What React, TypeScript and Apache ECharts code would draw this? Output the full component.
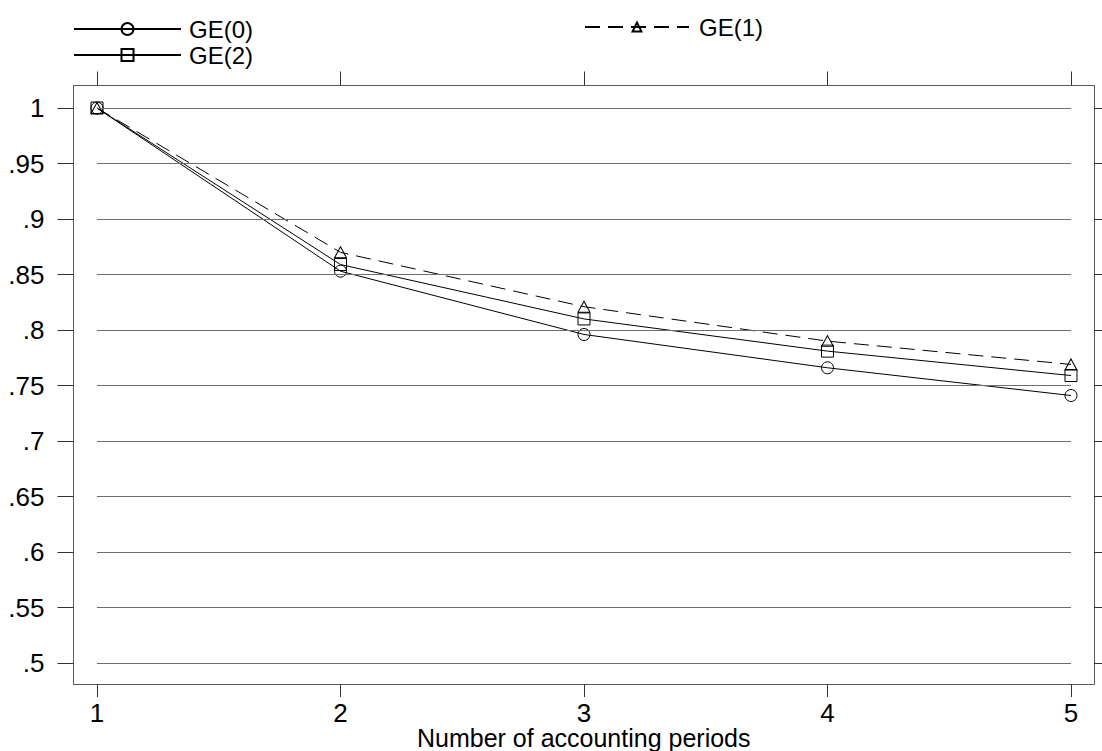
import React, { useEffect, useRef } from "react";
import * as echarts from "echarts";

// Number of accounting periods
const periods = [1, 2, 3, 4, 5];

// Ratio for each estimator
const ge0 = [1, 0.853, 0.796, 0.766, 0.741];
const ge1 = [1, 0.87, 0.821, 0.79, 0.769];
const ge2 = [1, 0.859, 0.81, 0.781, 0.759];

// Tick positions on the value axis
const yTicks = [0.5, 0.55, 0.6, 0.65, 0.7, 0.75, 0.8, 0.85, 0.9, 0.95, 1];

const FONT = "'Liberation Sans', Arial, sans-serif";
const FRAME = "#5a5a5a";
const GRID = "#6e6e6e";

const fmtY = (v: number) => {
  const s = String(+v.toFixed(2));
  return s.startsWith("0") ? s.slice(1) : s;
};

const pairs = (ys: number[]) => periods.map((x, i) => [x, ys[i]]);

export default function App() {
  const ref = useRef<HTMLDivElement>(null);

  useEffect(() => {
    if (!ref.current) return;
    const chart = echarts.init(ref.current, null, { renderer: "svg" });

    const xCommon = {
      type: "value" as const,
      min: 0.9035,
      max: 5.0945,
      splitLine: { show: false },
      axisLine: { show: true, onZero: false, lineStyle: { color: FRAME, width: 1 } },
    };
    const yCommon = {
      type: "value" as const,
      min: 0.4811,
      max: 1.0203,
      splitLine: { show: false },
      axisLine: { show: true, onZero: false, lineStyle: { color: FRAME, width: 1 } },
    };

    const symStyle = {
      color: "rgba(0,0,0,0)",
      borderColor: "#000",
      borderWidth: 1,
    };

    const legendText = {
      fontSize: 24,
      lineHeight: 24,
      color: "#000",
      fontFamily: FONT,
      padding: [0, 0, 0, 3],
    };

    chart.setOption({
      animation: false,
      backgroundColor: "#fff",
      textStyle: { fontFamily: FONT },
      grid: {
        left: 73.5,
        right: 8,
        top: 85.5,
        bottom: 67,
        containLabel: false,
        outerBoundsMode: "none",
      },
      legend: [
        {
          data: ["GE(0)"],
          left: 73,
          top: 17,
          padding: 0,
          itemWidth: 107,
          itemHeight: 15,
          textStyle: legendText,
        },
        {
          data: ["GE(1)"],
          left: 584,
          top: 15,
          padding: 0,
          itemWidth: 104,
          itemHeight: 11,
          textStyle: { ...legendText, padding: [0, 0, 0, 5] },
        },
        {
          data: ["GE(2)"],
          left: 73,
          top: 43,
          padding: 0,
          itemWidth: 107,
          itemHeight: 15,
          textStyle: legendText,
        },
      ],
      xAxis: [
        {
          ...xCommon,
          position: "bottom",
          axisTick: {
            show: true,
            customValues: periods,
            length: 13,
            lineStyle: { color: "#333" },
          },
          axisLabel: {
            customValues: periods,
            fontSize: 26,
            lineHeight: 20,
            color: "#000",
            margin: 19,
            fontFamily: FONT,
          },
          name: "Number of accounting periods",
          nameLocation: "middle",
          nameGap: 44,
          nameMoveOverlap: false,
          nameTextStyle: { fontSize: 25, lineHeight: 20, color: "#000", fontFamily: FONT },
        },
        {
          ...xCommon,
          position: "top",
          axisTick: {
            show: true,
            customValues: periods,
            length: 14,
            lineStyle: { color: "#333" },
          },
          axisLabel: { show: false },
        },
      ],
      yAxis: [
        {
          ...yCommon,
          position: "left",
          axisTick: {
            show: true,
            customValues: yTicks,
            length: 16,
            lineStyle: { color: "#333" },
          },
          axisLabel: {
            customValues: yTicks,
            formatter: (v: number) => fmtY(v),
            fontSize: 26,
            color: "#000",
            margin: 29,
            fontFamily: FONT,
          },
        },
        {
          ...yCommon,
          position: "right",
          axisTick: {
            show: true,
            customValues: yTicks,
            length: 10,
            lineStyle: { color: "#333" },
          },
          axisLabel: { show: false },
        },
      ],
      series: [
        {
          name: "grid",
          type: "line",
          data: [[1, 0.5]],
          symbol: "none",
          lineStyle: { opacity: 0 },
          silent: true,
          z: 1,
          markLine: {
            silent: true,
            symbol: "none",
            label: { show: false },
            lineStyle: { color: GRID, type: "solid", width: 1 },
            data: yTicks.map((v) => [{ coord: [1, v] }, { coord: [5, v] }]),
          },
        },
        {
          name: "GE(0)",
          type: "line",
          data: pairs(ge0),
          symbol: "circle",
          symbolSize: 12,
          lineStyle: { color: "#000", width: 1, type: "solid" },
          itemStyle: symStyle,
          z: 3,
        },
        {
          name: "GE(1)",
          type: "line",
          data: pairs(ge1),
          symbol: "triangle",
          symbolSize: [12, 11],
          lineStyle: { color: "#000", width: 1, type: [15, 8] },
          itemStyle: symStyle,
          z: 3,
        },
        {
          name: "GE(2)",
          type: "line",
          data: pairs(ge2),
          symbol: "rect",
          symbolSize: 12,
          lineStyle: { color: "#000", width: 1, type: "solid" },
          itemStyle: symStyle,
          z: 3,
        },
      ],
    });

    return () => chart.dispose();
  }, []);

  return (
    <div
      ref={ref}
      style={{ position: "fixed", left: 0, top: 0, width: 1102, height: 751, background: "#fff" }}
    />
  );
}
